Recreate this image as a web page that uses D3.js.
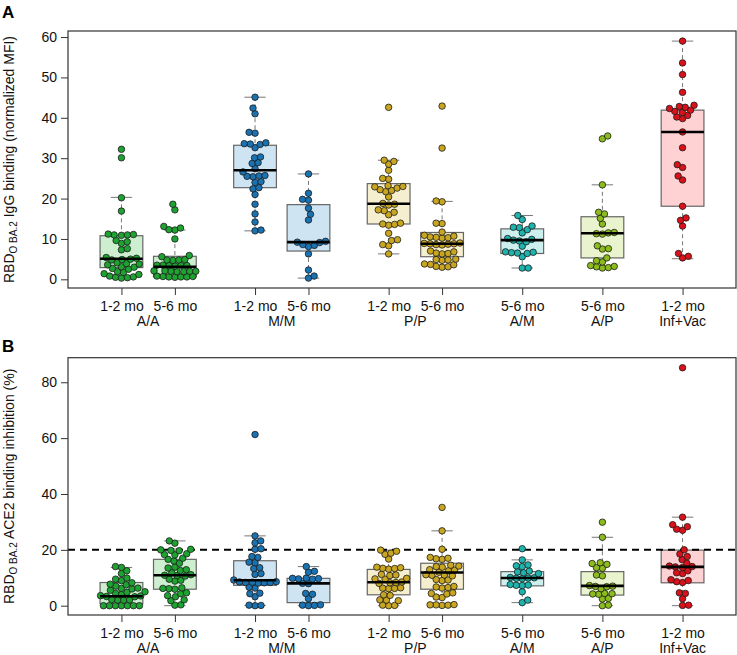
<!DOCTYPE html>
<html>
<head>
<meta charset="utf-8">
<script src="https://cdn.jsdelivr.net/npm/d3@7"></script>
<style>
  body { margin: 0; background: #fff; }
  svg text { font-family: "Liberation Sans", Arial, sans-serif; }
</style>
</head>
<body>
<div id="chart"></div>
<script>
// box positions (in slot units) and labels
var positions = [0, 1, 2.5, 3.5, 5, 6, 7.5, 9, 10.5];
var timeLabels = ["1-2 mo", "5-6 mo", "1-2 mo", "5-6 mo", "1-2 mo", "5-6 mo", "5-6 mo", "5-6 mo", "1-2 mo"];
var groupLabels = ["A/A", "M/M", "P/P", "A/M", "A/P", "Inf+Vac"];
var groupCenters = [0.5, 3, 5.5, 7.5, 9, 10.5];
var pointColors = ["#1ea332", "#1ea332", "#1b72b0", "#1b72b0", "#c8a622", "#c8a622", "#1fb3ad", "#8cbb1e", "#d8121b"];
var boxColors = ["#cdeecf", "#cdeecf", "#cfe4f3", "#cfe4f3", "#f5efcf", "#f5efcf", "#cdf0ee", "#e9f3cd", "#fed2d3"];

// panel A: IgG binding (normalized MFI)
var igA = [
  [32.2, 30.1, 20.2, 16.9, 11.1, 11.0, 11.0, 10.9, 11.2, 9.6, 9.3, 8.9, 7.6, 7.3, 5.4, 5.2, 5.0, 4.9, 4.8, 4.1, 3.9, 3.8, 3.6, 3.1, 3.0, 2.7, 2.5, 1.9, 1.7, 1.4, 1.2, 0.8, 0.6, 0.5, 0.3, 0.4],
  [18.6, 17.2, 13.1, 12.7, 12.3, 12.2, 10.0, 5.9, 5.6, 4.9, 4.8, 4.8, 4.7, 3.5, 3.4, 3.4, 3.3, 3.5, 3.4, 2.1, 2.0, 2.0, 1.9, 2.1, 2.0, 1.9, 0.8, 0.7, 0.7, 0.6, 0.6, 0.5, 0.6],
  [45.1, 42.4, 41.0, 36.4, 36.2, 33.8, 33.6, 33.5, 33.4, 32.6, 30.3, 30.1, 28.9, 28.7, 27.4, 26.6, 25.6, 25.5, 25.4, 25.7, 24.2, 24.0, 22.7, 22.4, 21.0, 18.6, 16.2, 14.2, 12.0, 12.2],
  [26.1, 21.3, 19.8, 19.6, 17.6, 16.1, 14.7, 9.4, 9.2, 9.1, 8.6, 8.4, 8.1, 6.3, 2.3, 0.8, 0.3],
  [42.6, 29.5, 29.2, 28.5, 27.0, 25.0, 24.8, 23.2, 23.0, 22.9, 22.6, 22.2, 22.0, 21.7, 20.4, 18.8, 18.6, 18.4, 17.2, 17.0, 16.6, 16.0, 13.9, 13.7, 13.6, 13.4, 11.4, 9.8, 9.6, 8.6, 8.3, 6.3],
  [42.9, 32.5, 19.4, 19.2, 13.9, 13.8, 11.7, 10.9, 10.7, 10.4, 10.3, 10.5, 10.2, 9.0, 8.9, 8.8, 8.8, 8.7, 8.6, 8.5, 7.0, 6.8, 6.5, 6.4, 6.3, 5.0, 4.9, 4.8, 4.7, 3.8, 3.7, 3.6, 3.2, 3.1, 3.0],
  [15.8, 14.8, 13.2, 12.9, 12.8, 12.3, 11.5, 10.1, 9.9, 9.7, 9.5, 9.3, 8.2, 6.8, 6.7, 6.6, 6.5, 6.4, 5.6, 2.8, 2.8],
  [35.5, 34.8, 23.4, 16.6, 16.2, 15.1, 13.7, 11.6, 11.5, 11.3, 11.2, 8.3, 7.6, 7.5, 5.3, 4.6, 4.3, 3.4, 3.2, 3.1, 2.8, 2.9],
  [59.0, 53.6, 50.7, 46.3, 43.1, 42.8, 42.6, 42.3, 41.9, 41.6, 41.3, 40.6, 40.2, 39.8, 36.5, 32.6, 28.4, 27.7, 25.6, 24.6, 18.1, 15.2, 14.6, 13.2, 6.4, 5.7, 5.3]
];
// box stats: [lower whisker, q1, median, q3, upper whisker]
var igStats = [
  [0.3, 2.9, 5.1, 10.8, 20.3],
  [0.4, 0.6, 3.1, 5.7, 12.2],
  [12.0, 22.7, 27.0, 33.2, 45.1],
  [0.3, 7.0, 9.2, 18.5, 26.1],
  [6.3, 13.7, 18.7, 23.7, 29.5],
  [3.1, 5.6, 8.8, 11.6, 19.3],
  [2.8, 6.4, 9.7, 12.5, 15.8],
  [2.9, 5.3, 11.4, 15.5, 23.4],
  [5.1, 18.1, 36.5, 41.9, 59.0]
];

// panel B: ACE2 binding inhibition (%)
var aceB = [
  [14.0, 13.7, 12.5, 11.5, 9.9, 9.5, 9.0, 8.2, 7.7, 7.5, 7.0, 6.3, 6.2, 6.0, 5.5, 5.0, 4.8, 4.4, 4.0, 3.6, 3.5, 3.3, 3.2, 2.2, 2.1, 2.0, 2.0, 0, 0, 0, 0, 0, 0, 0],
  [23.2, 22.4, 20.2, 20.0, 19.8, 19.7, 18.6, 18.3, 18.2, 17.0, 16.6, 16.0, 15.2, 13.8, 13.5, 12.9, 12.6, 11.8, 11.1, 10.9, 10.8, 10.6, 9.5, 9.1, 8.8, 6.4, 6.2, 6.1, 5.9, 4.6, 4.3, 3.6, 3.2, 2.1, 1.8, 0.2, 0.3],
  [61.3, 25.0, 23.2, 22.5, 20.4, 20.2, 17.6, 17.3, 15.6, 15.4, 13.6, 13.3, 11.5, 11.2, 9.2, 8.6, 8.5, 8.4, 8.3, 8.3, 8.2, 8.1, 6.6, 6.3, 4.5, 4.3, 3.2, 0.2, 0.1, 0.0],
  [14.0, 12.3, 12.0, 9.9, 9.8, 9.7, 9.6, 9.5, 8.0, 7.9, 4.4, 4.1, 2.5, 0.3, 0.2, 0.1, 0.0],
  [19.9, 19.5, 18.8, 18.4, 16.7, 13.8, 13.6, 13.4, 13.3, 13.1, 11.2, 11.0, 10.8, 9.8, 9.6, 9.5, 8.5, 8.3, 8.2, 8.0, 6.4, 6.2, 6.3, 6.1, 3.9, 3.7, 2.1, 2.0, 1.8, 0.2, 0.1, 0.0],
  [35.2, 26.8, 20.2, 17.3, 17.0, 16.8, 16.6, 14.5, 14.2, 14.0, 13.8, 12.9, 12.7, 12.5, 12.0, 11.1, 11.0, 10.9, 10.7, 9.4, 9.2, 9.0, 6.9, 6.7, 6.5, 6.3, 4.6, 4.4, 4.2, 3.1, 2.9, 0.4, 0.3, 0.2, 0.1, 0.3],
  [20.4, 16.4, 14.6, 14.3, 14.0, 12.4, 12.1, 11.8, 11.5, 10.1, 10.0, 9.9, 9.8, 9.7, 7.6, 7.4, 7.3, 7.2, 5.0, 2.0, 1.1],
  [29.9, 24.5, 15.4, 15.1, 14.8, 13.6, 13.4, 11.0, 10.7, 7.2, 7.0, 6.9, 6.8, 6.1, 4.3, 4.2, 4.1, 4.4, 2.4, 2.6, 0.2, 0.0],
  [85.2, 31.7, 29.0, 28.3, 27.4, 27.0, 20.0, 18.5, 17.6, 16.5, 15.2, 14.2, 14.0, 13.9, 13.7, 12.5, 11.8, 11.5, 9.3, 9.0, 8.6, 8.3, 4.6, 4.4, 2.5, 0.2, 0.1]
];
var aceStats = [
  [0, 0.7, 3.4, 8.3, 13.7],
  [0, 5.9, 10.9, 16.6, 23.2],
  [0.1, 7.3, 9.1, 16.1, 25.0],
  [0, 1.1, 8.0, 9.8, 14.0],
  [0, 3.9, 8.4, 13.0, 19.9],
  [0.2, 5.9, 11.9, 15.2, 26.8],
  [1.1, 7.1, 9.9, 12.2, 16.4],
  [0, 3.8, 7.1, 12.2, 24.5],
  [0, 8.2, 13.9, 19.9, 31.7]
];
var igTicks = [0, 10, 20, 30, 40, 50, 60];
var aceTicks = [0, 20, 40, 60, 80];
var aceCutoff = 20;

var W = 737, H = 655;
var left = 68, right = 736;
var svg = d3.select("#chart").append("svg").attr("width", W).attr("height", H);

var x = d3.scaleLinear().domain([-1, 11.5]).range([left, right]);
var unit = x(1) - x(0);

// simple beeswarm: place points bottom-up, as near the centre as possible
function swarm(vals, y, d) {
  var pts = vals.map(function(v) { return {v: v, y: y(v), dx: 0}; })
    .sort(function(a, b) { return b.y - a.y; });
  var placed = [];
  pts.forEach(function(p, k) {
    var cands = [0];
    placed.forEach(function(q) {
      var dy = Math.abs(q.y - p.y);
      if (dy < d) {
        var off = Math.sqrt(d * d - dy * dy);
        cands.push(q.dx + off, q.dx - off);
      }
    });
    // alternate the preferred side so rows stay balanced
    var side = k % 2 ? 1 : -1;
    cands.sort(function(a, b) { return Math.abs(a) - Math.abs(b) || side * (b - a); });
    for (var i = 0; i < cands.length; i++) {
      var c = cands[i];
      var ok = placed.every(function(q) {
        var ddx = q.dx - c, ddy = q.y - p.y;
        return ddx * ddx + ddy * ddy >= d * d - 0.01;
      });
      if (ok) { p.dx = c; break; }
    }
    placed.push(p);
  });
  return placed;
}

function panel(cfg) {
  var y = d3.scaleLinear().domain(cfg.domain).range([cfg.bottom, cfg.top]);
  var g = svg.append("g");

  // y axis
  var ya = g.append("g")
    .attr("transform", "translate(" + left + ",0)")
    .call(d3.axisLeft(y).tickValues(cfg.ticks).tickSize(7).tickPadding(4));
  ya.select(".domain").remove();
  ya.selectAll("line").attr("stroke", "#333");
  ya.selectAll("text").style("font-size", "14px").attr("fill", "#111");

  // x axis
  var xa = g.append("g")
    .attr("transform", "translate(0," + cfg.bottom + ")")
    .call(d3.axisBottom(x).tickValues(positions).tickSize(7).tickPadding(6)
      .tickFormat(function(d, i) { return timeLabels[i]; }));
  xa.select(".domain").remove();
  xa.selectAll("line").attr("stroke", "#333");
  xa.selectAll("text").style("font-size", "14px").attr("fill", "#111");

  g.selectAll(".grp").data(groupLabels).enter().append("text")
    .attr("x", function(d, i) { return x(groupCenters[i]); })
    .attr("y", cfg.bottom + 38)
    .attr("text-anchor", "middle")
    .style("font-size", "14px")
    .attr("fill", "#111")
    .text(function(d) { return d; });

  // boxes
  var half = unit * 0.4, cap = unit * 0.2;
  cfg.stats.forEach(function(s, i) {
    var cx = x(positions[i]);
    var bg = g.append("g");
    bg.append("line").attr("x1", cx).attr("x2", cx).attr("y1", y(s[4])).attr("y2", y(s[3]))
      .attr("stroke", "#777").attr("stroke-dasharray", "4,3");
    bg.append("line").attr("x1", cx).attr("x2", cx).attr("y1", y(s[1])).attr("y2", y(s[0]))
      .attr("stroke", "#777").attr("stroke-dasharray", "4,3");
    bg.append("line").attr("x1", cx - cap).attr("x2", cx + cap).attr("y1", y(s[4])).attr("y2", y(s[4]))
      .attr("stroke", "#777");
    bg.append("line").attr("x1", cx - cap).attr("x2", cx + cap).attr("y1", y(s[0])).attr("y2", y(s[0]))
      .attr("stroke", "#777");
    bg.append("rect").attr("x", cx - half).attr("width", 2 * half)
      .attr("y", y(s[3])).attr("height", y(s[1]) - y(s[3]))
      .attr("fill", boxColors[i]).attr("stroke", "#666").attr("stroke-width", 1.2);
  });

  if (cfg.cutoff != null) {
    g.append("line").attr("x1", left).attr("x2", right)
      .attr("y1", y(cfg.cutoff)).attr("y2", y(cfg.cutoff))
      .attr("stroke", "#000").attr("stroke-width", 2).attr("stroke-dasharray", "7,5");
  }

  // points
  cfg.values.forEach(function(vals, i) {
    var cx = x(positions[i]);
    g.append("g").selectAll("circle").data(swarm(vals, y, 6.0)).enter().append("circle")
      .attr("cx", function(d) { return cx + d.dx; })
      .attr("cy", function(d) { return d.y; })
      .attr("r", 3.25)
      .attr("fill", pointColors[i])
      .attr("stroke", "#1c1c1c")
      .attr("stroke-width", 0.8);
  });

  // medians on top
  cfg.stats.forEach(function(s, i) {
    var cx = x(positions[i]);
    g.append("line").attr("x1", cx - half).attr("x2", cx + half)
      .attr("y1", y(s[2])).attr("y2", y(s[2]))
      .attr("stroke", "#000").attr("stroke-width", 2.6);
  });

  // frame
  g.append("rect").attr("x", left).attr("y", cfg.top)
    .attr("width", right - left).attr("height", cfg.bottom - cfg.top)
    .attr("fill", "none").attr("stroke", "#333").attr("stroke-width", 1.2);

  // panel letter
  g.append("text").attr("x", 2).attr("y", cfg.letterY)
    .style("font-size", "17px").style("font-weight", "bold").text(cfg.letter);

  // y title with subscript
  var t = g.append("text")
    .attr("transform", "translate(14," + ((cfg.top + cfg.bottom) / 2) + ") rotate(-90)")
    .attr("text-anchor", "middle")
    .style("font-size", "14px")
    .attr("fill", "#111");
  t.append("tspan").text("RBD");
  t.append("tspan").attr("dy", 3).style("font-size", "10px").text("O BA.2");
  t.append("tspan").attr("dy", -3).text(" " + cfg.title);
}

panel({
  top: 31, bottom: 288, domain: [-2.15, 61.5], ticks: igTicks,
  values: igA, stats: igStats, letter: "A", letterY: 18,
  title: "IgG binding (normalized MFI)"
});
panel({
  top: 357.7, bottom: 615, domain: [-3.33, 88.8], ticks: aceTicks,
  values: aceB, stats: aceStats, letter: "B", letterY: 352,
  title: "ACE2 binding inhibition (%)", cutoff: aceCutoff
});
</script>
</body>
</html>
